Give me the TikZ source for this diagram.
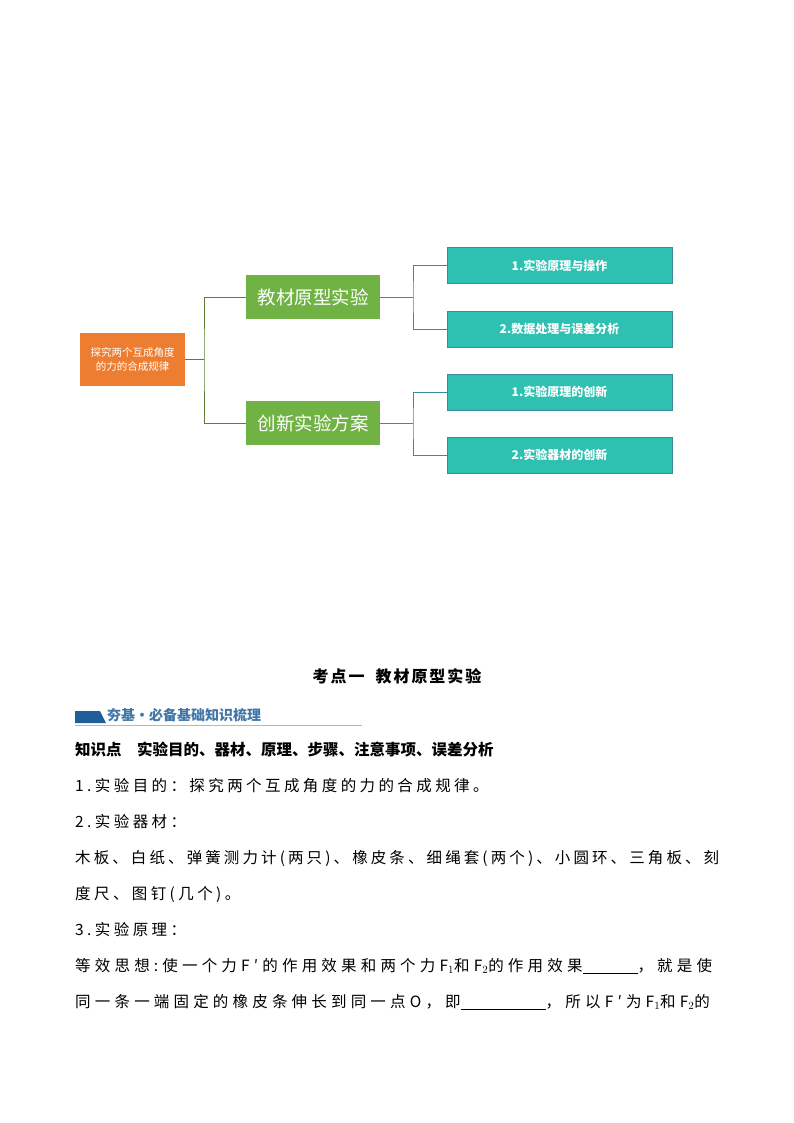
\documentclass[tikz,border=0pt]{standalone}
\usepackage{fontspec}
\setmainfont{Noto Sans CJK SC}
\newfontfamily\cjk{Noto Sans CJK SC}
\newfontfamily\cjkbody[LetterSpace=22]{Noto Sans CJK SC}
\newfontfamily\cjkbodyA[LetterSpace=20]{Noto Sans CJK SC}
\newfontfamily\cjkbodyB[LetterSpace=27]{Noto Sans CJK SC}
\newfontfamily\cjktitle[LetterSpace=12]{Noto Sans CJK SC}
\definecolor{orangebox}{HTML}{ED7D31}
\definecolor{greenbox}{HTML}{70B244}
\definecolor{tealbox}{HTML}{2EC0B0}
\definecolor{greenline}{HTML}{5E7E34}
\definecolor{tealline}{HTML}{3A8C9C}
\definecolor{headblue}{HTML}{1F5E9A}
\definecolor{lineblue}{HTML}{9DBCE0}
\begin{document}
\begin{tikzpicture}[x=1pt,y=-1pt,
  box/.style={draw=none,inner sep=0pt,align=center,text=white},
  gline/.style={greenline,line width=0.9pt},
  tline/.style={tealline,line width=0.9pt},
  body/.style={anchor=west,inner sep=0pt,font=\cjkbody\fontsize{15.5}{18}\selectfont}]
\useasboundingbox (0,0) rectangle (794,1123);
\fill[white] (0,0) rectangle (794,1123);
\node[box,fill=orangebox,minimum width=105pt,minimum height=53pt,font=\cjk\fontsize{10.5}{14}\selectfont] (root) at (132.5,359.5) {探究两个互成角度\\的力的合成规律};
\node[box,fill=greenbox,minimum width=134pt,minimum height=44pt,font=\cjk\fontsize{18.5}{20}\selectfont] (g1) at (313,297) {教材原型实验};
\node[box,fill=greenbox,minimum width=134pt,minimum height=44pt,font=\cjk\fontsize{18.5}{20}\selectfont] (g2) at (313,423) {创新实验方案};
\tikzset{tbox/.style={box,fill=tealbox,draw=tealline,line width=0.4pt,minimum width=225pt,minimum height=36pt,font=\cjk\bfseries\fontsize{12}{14}\selectfont}}
\node[tbox] (t1) at (559.5,265.5) {1.实验原理与操作};
\node[tbox] (t2) at (559.5,329) {2.数据处理与误差分析};
\node[tbox] (t3) at (559.5,392) {1.实验原理的创新};
\node[tbox] (t4) at (559.5,455) {2.实验器材的创新};
\coordinate (rj) at (204,359.5);
\draw[gline] (root.east) -- (rj);
\draw[gline] (g1.west) -| (rj) |- (g2.west);
\coordinate (j1) at (413,297);
\coordinate (j2) at (413,423);
\draw[tline] (g1.east) -- (j1);
\draw[tline] (t1.west) -| (j1) |- (t2.west);
\draw[tline] (g2.east) -- (j2);
\draw[tline] (t3.west) -| (j2) |- (t4.west);
% lower section
\node[inner sep=0pt,font=\cjktitle\bfseries\fontsize{16}{18}\selectfont] (title) at (397,676) {考点一\ \ 教材原型实验};
\fill[headblue] (75,711) -- (100,711) -- (106,723) -- (75,723) -- cycle;
\node[anchor=west,inner sep=0pt,text=headblue!85,font=\cjk\bfseries\fontsize{14}{16}\selectfont] (head) at (107,715) {夯基·必备基础知识梳理};
\draw[lineblue,line width=0.6pt] (75,725.5) -- (362,725.5);
\node[anchor=west,inner sep=0pt,font=\cjk\bfseries\fontsize{15.5}{18}\selectfont] (kp) at (75,750) {知识点\quad 实验目的、器材、原理、步骤、注意事项、误差分析};
\node[body] (l1) at (75,786) {1.实验目的：探究两个互成角度的力的合成规律。};
\node[body] (l2) at (75,822) {2.实验器材：};
\node[body,font=\cjkbodyA\fontsize{15.5}{18}\selectfont] (l3) at (75,858) {木板、白纸、弹簧测力计(两只)、橡皮条、细绳套(两个)、小圆环、三角板、刻};
\node[body] (l4) at (75,894) {度尺、图钉(几个)。};
\node[body] (l5) at (75,930) {3.实验原理：};
\node[body,font=\cjkbodyB\fontsize{15.5}{18}\selectfont] (l6) at (75,966) {等效思想:使一个力F′的作用效果和两个力F$_1$和F$_2$的作用效果\underline{\hspace{55pt}}，就是使};
\node[body,font=\cjkbodyB\fontsize{15.5}{18}\selectfont] (l7) at (75,1002) {同一条一端固定的橡皮条伸长到同一点O，即\underline{\hspace{85pt}}，所以F′为F$_1$和F$_2$的};
\end{tikzpicture}
\end{document}
